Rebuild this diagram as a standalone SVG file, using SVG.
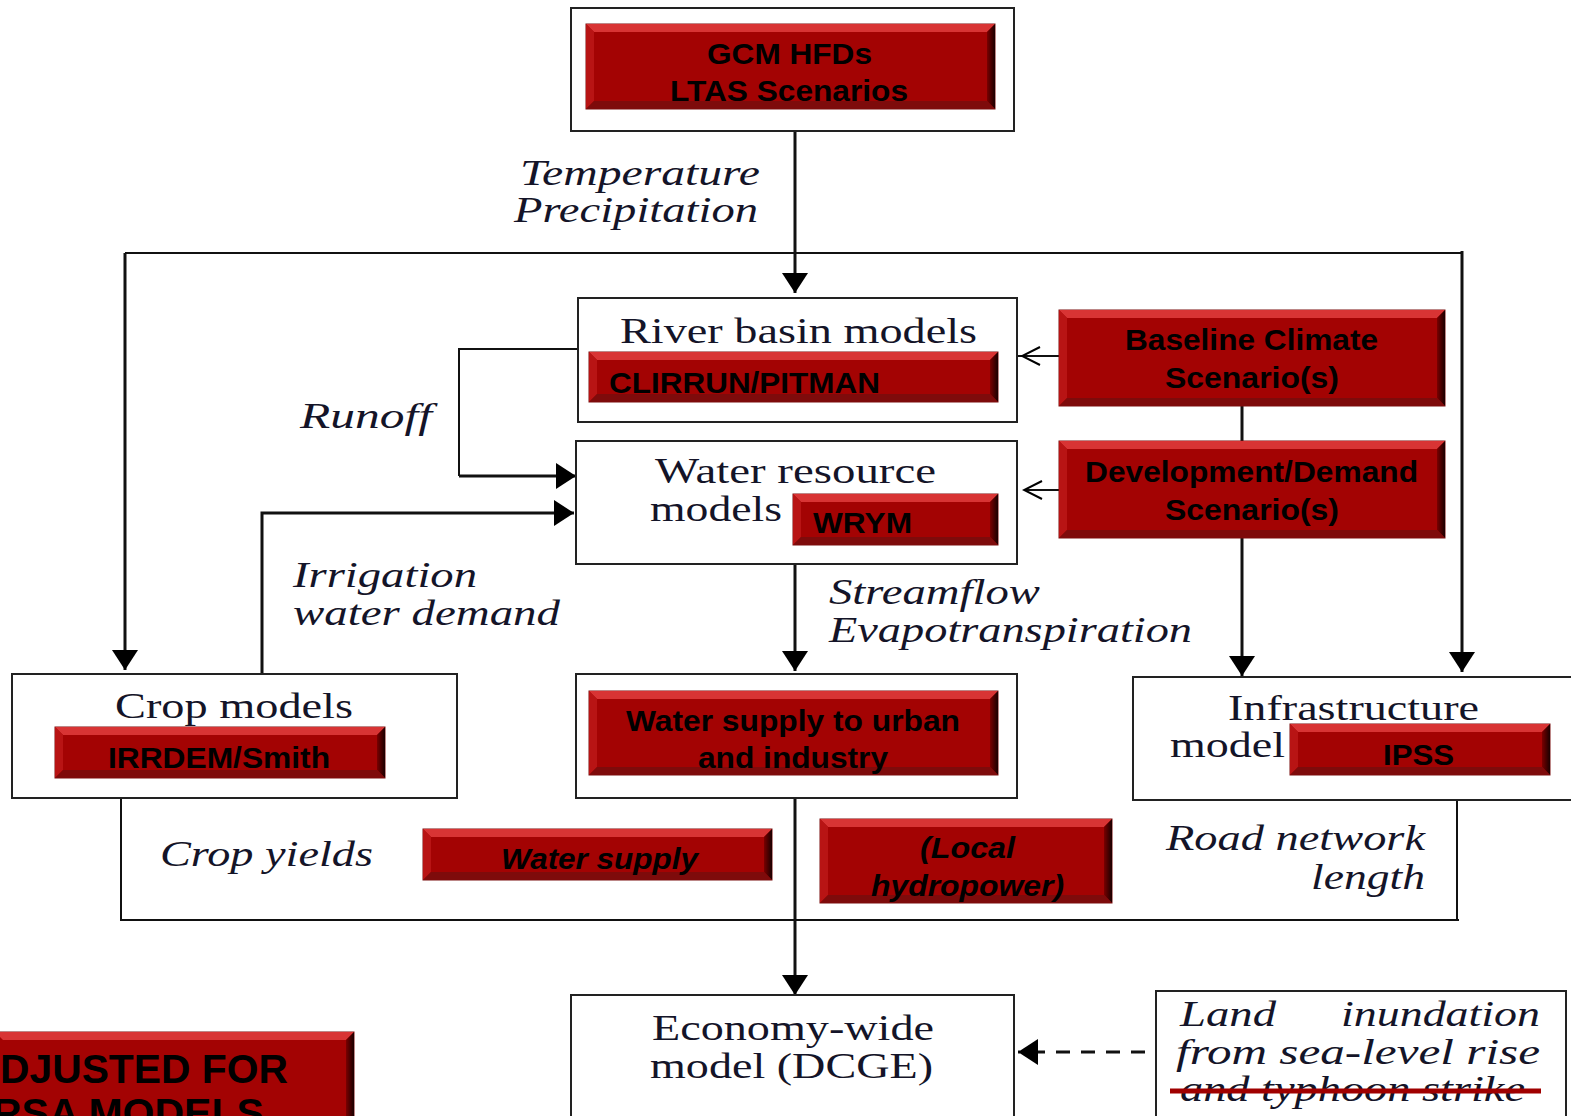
<svg xmlns="http://www.w3.org/2000/svg" width="1571" height="1116" viewBox="0 0 1571 1116">
<style>
.box{fill:#fff;stroke:#222;stroke-width:2}
.bf{fill:#a30303;stroke:#7a1010;stroke-width:1}
.bt{fill:#d83434}
.bl{fill:#b81414}
.br{fill:url(#gr)}
.bb{fill:#7e0b0b}
.bt2{font-family:"Liberation Sans",Arial,sans-serif;font-weight:bold;font-size:30px;fill:#000}
.bi{font-style:italic}
.sr{font-family:"Liberation Serif","Times New Roman",serif;font-size:36px;fill:#141428}
.it{font-style:italic;font-size:35px}
.ln{fill:none;stroke:#111;stroke-width:2}
.lt{fill:none;stroke:#111;stroke-width:3}
</style>
<defs>
<linearGradient id="gr" x1="0" y1="0" x2="1" y2="0">
<stop offset="0" stop-color="#7a0000"/>
<stop offset="1" stop-color="#1a0000"/>
</linearGradient>
<marker id="ah" viewBox="0 0 20 26" refX="20" refY="13" markerWidth="20" markerHeight="26" markerUnits="userSpaceOnUse" orient="auto">
<path d="M0,0 L20,13 L0,26 z" fill="#000"/>
</marker>
<marker id="oa" viewBox="0 0 22 22" refX="20" refY="11" markerWidth="22" markerHeight="22" markerUnits="userSpaceOnUse" orient="auto">
<path d="M2,2 L20,11 L2,20" fill="none" stroke="#000" stroke-width="2"/>
</marker>
</defs>

<g id="connectors">
<line class="lt" x1="795" y1="131" x2="795" y2="293" marker-end="url(#ah)"/>
<polyline class="ln" points="125,253 1462,253"/>
<line class="lt" x1="125" y1="253" x2="125" y2="670" marker-end="url(#ah)"/>
<line class="lt" x1="1462" y1="251" x2="1462" y2="672" marker-end="url(#ah)"/>
<polyline class="ln" points="578,349 459,349 459,476"/>
<line class="lt" x1="459" y1="476" x2="576" y2="476" marker-end="url(#ah)"/>
<polyline class="lt" points="262,674 262,513 574,513" marker-end="url(#ah)"/>
<line class="ln" x1="1017" y1="356" x2="1059" y2="356"/>
<line class="ln" x1="1059" y1="356" x2="1022" y2="356" marker-end="url(#oa)"/>
<line class="ln" x1="1059" y1="490" x2="1024" y2="490" marker-end="url(#oa)"/>
<line class="lt" x1="1242" y1="406" x2="1242" y2="441"/>
<line class="lt" x1="1242" y1="538" x2="1242" y2="676" marker-end="url(#ah)"/>
<line class="lt" x1="795" y1="564" x2="795" y2="671" marker-end="url(#ah)"/>
<polyline class="ln" points="121,798 121,920 1459,920"/>
<line class="ln" x1="1457" y1="800" x2="1457" y2="920"/>
<line class="lt" x1="795" y1="798" x2="795" y2="995" marker-end="url(#ah)"/>
<line class="lt" x1="1145" y1="1052" x2="1018" y2="1052" stroke-dasharray="14 11" marker-end="url(#ah)"/>
</g>

<g id="labels">
<text class="sr it" x="520" y="185" textLength="240" lengthAdjust="spacingAndGlyphs">Temperature</text>
<text class="sr it" x="514" y="222" textLength="244" lengthAdjust="spacingAndGlyphs">Precipitation</text>
<text class="sr it" x="300" y="428" textLength="132" lengthAdjust="spacingAndGlyphs">Runoff</text>
<text class="sr it" x="293" y="587" textLength="184" lengthAdjust="spacingAndGlyphs">Irrigation</text>
<text class="sr it" x="293" y="625" textLength="267" lengthAdjust="spacingAndGlyphs">water demand</text>
<text class="sr it" x="829" y="604" textLength="211" lengthAdjust="spacingAndGlyphs">Streamflow</text>
<text class="sr it" x="829" y="642" textLength="363" lengthAdjust="spacingAndGlyphs">Evapotranspiration</text>
<text class="sr it" x="160" y="866" textLength="213" lengthAdjust="spacingAndGlyphs">Crop yields</text>
<text class="sr it" x="1166" y="850" textLength="259" lengthAdjust="spacingAndGlyphs">Road network</text>
<text class="sr it" x="1311" y="889" textLength="114" lengthAdjust="spacingAndGlyphs">length</text>
</g>

<g id="gcm">
<rect class="box" x="571" y="8" width="443" height="123"/>
<rect class="bf" x="586" y="24" width="409" height="85"/>
<polygon class="bt" points="586,24 995,24 987,32 594,32"/>
<polygon class="bl" points="586,24 594,32 594,101 586,109"/>
<polygon class="br" points="995,24 995,109 987,101 987,32"/>
<polygon class="bb" points="586,109 995,109 987,101 594,101"/>
<text class="bt2" x="707" y="64" textLength="165" lengthAdjust="spacingAndGlyphs">GCM HFDs</text>
<text class="bt2" x="670" y="101" textLength="238" lengthAdjust="spacingAndGlyphs">LTAS Scenarios</text>
</g>

<g id="river">
<rect class="box" x="578" y="298" width="439" height="124"/>
<text class="sr" x="620" y="343" textLength="357" lengthAdjust="spacingAndGlyphs">River basin models</text>
<rect class="bf" x="589" y="352" width="409" height="50"/>
<polygon class="bt" points="589,352 998,352 990,360 597,360"/>
<polygon class="bl" points="589,352 597,360 597,394 589,402"/>
<polygon class="br" points="998,352 998,402 990,394 990,360"/>
<polygon class="bb" points="589,402 998,402 990,394 597,394"/>
<text class="bt2" x="609" y="393" textLength="271" lengthAdjust="spacingAndGlyphs">CLIRRUN/PITMAN</text>
</g>

<g id="baseline">
<rect class="bf" x="1059" y="310" width="386" height="96"/>
<polygon class="bt" points="1059,310 1445,310 1437,318 1067,318"/>
<polygon class="bl" points="1059,310 1067,318 1067,398 1059,406"/>
<polygon class="br" points="1445,310 1445,406 1437,398 1437,318"/>
<polygon class="bb" points="1059,406 1445,406 1437,398 1067,398"/>
<text class="bt2" x="1125" y="350" textLength="253" lengthAdjust="spacingAndGlyphs">Baseline Climate</text>
<text class="bt2" x="1165" y="388" textLength="174" lengthAdjust="spacingAndGlyphs">Scenario(s)</text>
</g>

<g id="development">
<rect class="bf" x="1059" y="441" width="386" height="97"/>
<polygon class="bt" points="1059,441 1445,441 1437,449 1067,449"/>
<polygon class="bl" points="1059,441 1067,449 1067,530 1059,538"/>
<polygon class="br" points="1445,441 1445,538 1437,530 1437,449"/>
<polygon class="bb" points="1059,538 1445,538 1437,530 1067,530"/>
<text class="bt2" x="1085" y="482" textLength="333" lengthAdjust="spacingAndGlyphs">Development/Demand</text>
<text class="bt2" x="1165" y="520" textLength="174" lengthAdjust="spacingAndGlyphs">Scenario(s)</text>
</g>

<g id="water-resource">
<rect class="box" x="576" y="441" width="441" height="123"/>
<text class="sr" x="655" y="483" textLength="281" lengthAdjust="spacingAndGlyphs">Water resource</text>
<text class="sr" x="650" y="521" textLength="132" lengthAdjust="spacingAndGlyphs">models</text>
<rect class="bf" x="793" y="494" width="205" height="51"/>
<polygon class="bt" points="793,494 998,494 990,502 801,502"/>
<polygon class="bl" points="793,494 801,502 801,537 793,545"/>
<polygon class="br" points="998,494 998,545 990,537 990,502"/>
<polygon class="bb" points="793,545 998,545 990,537 801,537"/>
<text class="bt2" x="813" y="533" textLength="99" lengthAdjust="spacingAndGlyphs">WRYM</text>
</g>

<g id="crop">
<rect class="box" x="12" y="674" width="445" height="124"/>
<text class="sr" x="115" y="718" textLength="238" lengthAdjust="spacingAndGlyphs">Crop models</text>
<rect class="bf" x="55" y="727" width="330" height="51"/>
<polygon class="bt" points="55,727 385,727 377,735 63,735"/>
<polygon class="bl" points="55,727 63,735 63,770 55,778"/>
<polygon class="br" points="385,727 385,778 377,770 377,735"/>
<polygon class="bb" points="55,778 385,778 377,770 63,770"/>
<text class="bt2" x="108" y="768" textLength="222" lengthAdjust="spacingAndGlyphs">IRRDEM/Smith</text>
</g>

<g id="water-supply-urban">
<rect class="box" x="576" y="674" width="441" height="124"/>
<rect class="bf" x="589" y="691" width="409" height="84"/>
<polygon class="bt" points="589,691 998,691 990,699 597,699"/>
<polygon class="bl" points="589,691 597,699 597,767 589,775"/>
<polygon class="br" points="998,691 998,775 990,767 990,699"/>
<polygon class="bb" points="589,775 998,775 990,767 597,767"/>
<text class="bt2" x="626" y="731" textLength="334" lengthAdjust="spacingAndGlyphs">Water supply to urban</text>
<text class="bt2" x="698" y="768" textLength="190" lengthAdjust="spacingAndGlyphs">and industry</text>
</g>

<g id="infrastructure">
<rect class="box" x="1133" y="677" width="450" height="123"/>
<text class="sr" x="1228" y="720" textLength="251" lengthAdjust="spacingAndGlyphs">Infrastructure</text>
<text class="sr" x="1170" y="757" textLength="115" lengthAdjust="spacingAndGlyphs">model</text>
<rect class="bf" x="1290" y="724" width="260" height="51"/>
<polygon class="bt" points="1290,724 1550,724 1542,732 1298,732"/>
<polygon class="bl" points="1290,724 1298,732 1298,767 1290,775"/>
<polygon class="br" points="1550,724 1550,775 1542,767 1542,732"/>
<polygon class="bb" points="1290,775 1550,775 1542,767 1298,767"/>
<text class="bt2" x="1383" y="765" textLength="71" lengthAdjust="spacingAndGlyphs">IPSS</text>
</g>

<g id="water-supply">
<rect class="bf" x="423" y="829" width="349" height="51"/>
<polygon class="bt" points="423,829 772,829 764,837 431,837"/>
<polygon class="bl" points="423,829 431,837 431,872 423,880"/>
<polygon class="br" points="772,829 772,880 764,872 764,837"/>
<polygon class="bb" points="423,880 772,880 764,872 431,872"/>
<text class="bt2 bi" x="501" y="869" textLength="197" lengthAdjust="spacingAndGlyphs">Water supply</text>
</g>

<g id="hydropower">
<rect class="bf" x="820" y="819" width="292" height="84"/>
<polygon class="bt" points="820,819 1112,819 1104,827 828,827"/>
<polygon class="bl" points="820,819 828,827 828,895 820,903"/>
<polygon class="br" points="1112,819 1112,903 1104,895 1104,827"/>
<polygon class="bb" points="820,903 1112,903 1104,895 828,895"/>
<text class="bt2 bi" x="920" y="858" textLength="95" lengthAdjust="spacingAndGlyphs">(Local</text>
<text class="bt2 bi" x="871" y="896" textLength="193" lengthAdjust="spacingAndGlyphs">hydropower)</text>
</g>

<g id="economy">
<rect class="box" x="571" y="995" width="443" height="135"/>
<text class="sr" x="652" y="1040" textLength="282" lengthAdjust="spacingAndGlyphs">Economy-wide</text>
<text class="sr" x="650" y="1078" textLength="283" lengthAdjust="spacingAndGlyphs">model (DCGE)</text>
</g>

<g id="land">
<rect class="box" x="1156" y="991" width="410" height="140"/>
<text class="sr it" x="1180" y="1026" textLength="96" lengthAdjust="spacingAndGlyphs">Land</text>
<text class="sr it" x="1341" y="1026" textLength="199" lengthAdjust="spacingAndGlyphs">inundation</text>
<text class="sr it" x="1176" y="1064" textLength="364" lengthAdjust="spacingAndGlyphs">from sea-level rise</text>
<text class="sr it" x="1180" y="1101" textLength="345" lengthAdjust="spacingAndGlyphs">and typhoon strike</text>
<line x1="1170" y1="1091" x2="1541" y2="1091" stroke="#a00000" stroke-width="5"/>
</g>

<g id="adjusted">
<rect class="bf" x="-5" y="1032" width="359" height="100"/>
<polygon class="bt" points="-5,1032 354,1032 346,1040 3,1040"/>
<polygon class="br" points="354,1032 354,1132 346,1124 346,1040"/>
<text class="bt2" x="0" y="1083" textLength="288" lengthAdjust="spacingAndGlyphs" style="font-size:41px">DJUSTED FOR</text>
<text class="bt2" x="-8" y="1127" style="font-size:41px">RSA MODELS</text>
</g>
</svg>
